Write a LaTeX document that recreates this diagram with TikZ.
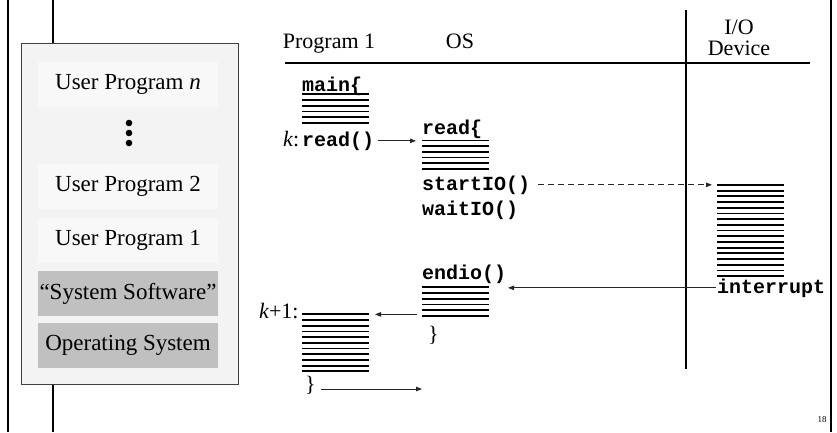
\documentclass[tikz,border=0pt]{standalone}
\usepackage{fontspec}
\setmainfont{Liberation Serif}
\setmonofont{Liberation Mono}
\usetikzlibrary{arrows.meta, positioning, calc}
\definecolor{memfill}{RGB}{243,243,243}
\definecolor{userfill}{RGB}{248,248,248}
\definecolor{sysfill}{RGB}{192,192,192}
\definecolor{memedge}{RGB}{64,64,64}

\begin{document}
\begin{tikzpicture}[
  x=1pt, y=-1pt,
  every node/.style={inner sep=0pt, outer sep=0pt},
  label22/.style={font=\fontsize{22}{22}\selectfont},
  code/.style={font=\fontsize{20}{20}\selectfont\ttfamily\bfseries, anchor=base west},
  membox/.style={draw=memedge, fill=memfill, line width=1pt, minimum width=217pt, minimum height=341pt},
  progbox/.style={fill=userfill, minimum width=180pt, minimum height=45pt, font=\fontsize{23}{23}\selectfont},
  sysbox/.style={progbox, fill=sysfill},
  stack/.style={minimum width=67pt, minimum height={(#1-1)*5.7pt+1.8pt}, anchor=north west,
    path picture={\foreach \r in {1,...,#1}
      \draw[line width=1.8pt] ([yshift={-0.9pt-(\r-1)*5.7pt}]path picture bounding box.north west) -- ++(67pt,0pt);}},
  arr/.style={-{Triangle[length=6pt,width=4.5pt]}, line width=0.9pt, black!85},
  frame/.style={line width=2.3pt},
]
\useasboundingbox (0,0) rectangle (837,432);

%% Slide frame
\draw[frame] (8,0) -- (8,432);
\draw[frame] (53,0) -- (53,432);
\draw[frame] (831,0) -- (831,432);

%% Memory layout
\node[membox] (mem) at (129.5,213.5) {};
\node[progbox] (upn) at (128,84.5) {User Program \textit{n}};
\foreach \dy in {123,133,143} \fill (129,\dy) circle (3.3pt);
\node[progbox] (up2) at (128,186.5) {User Program 2};
\node[progbox, below=9pt of up2] (up1) {User Program 1};
\node[sysbox, below=8pt of up1] (syssw) {``System Software''};
\node[sysbox, below=7pt of syssw] (opsys) {Operating System};

%% Column headers
\node[label22, anchor=base] (prog) at (329,48) {Program 1};
\node[label22, anchor=base] (os) at (460,48) {OS};
\node[align=center, font=\fontsize{22}{21}\selectfont] (iodev) at (739,38) {I/O\\Device};
\draw[line width=2pt] (285,63) -- (810,63);
\draw[line width=2pt] (686,10) -- (686,369);

%% Program 1
\node[code] (mainlbl) at (302,91) {main\{};
\node[stack=6] (mainstk) at (302,93.4) {};
\node[label22, anchor=base west] (klbl) at (283,146) {\textit{k}:};
\node[code] (readcall) at (302,146) {read()};

%% OS read
\node[code] (readlbl) at (422,134) {read\{};
\node[stack=6] (readstk) at (422,139.5) {};
\node[code] (startlbl) at (422,190) {startIO()};
\node[code] (waitlbl) at (422,215) {waitIO()};

%% I/O device
\node[stack=17] (iostk) at (717,184) {};
\node[code] (intlbl) at (717,293) {interrupt};

%% OS endio
\node[code] (endlbl) at (422,279) {endio()};
\node[stack=6] (endstk) at (422,286.4) {};
\node[label22, anchor=base west] (endbrace) at (428,341) {\}};

%% Program 1 resumes
\node[label22, anchor=base west] (k1lbl) at (259,318) {\textit{k}+1:};
\node[stack=11] (k1stk) at (302,313.4) {};
\node[label22, anchor=base west] (k1brace) at (305,391) {\}};
\coordinate (k1out) at (422,389);

\node[font=\fontsize{9}{9}\selectfont, anchor=base] (pagenum) at (822,422) {18};

%% Control flow
\draw[arr] ([xshift=4pt]readcall.east) -- ($(readcall.east -| readstk.west)+(-6,0)$);
\draw[arr, dash pattern=on 6pt off 4pt] ([xshift=8pt]startlbl.east) -- ($(startlbl.east -| iostk.west)+(-5,0)$);
\draw[arr] ([xshift=-1pt]intlbl.west) -- ($(intlbl.west -| endlbl.east)+(2,0)$);
\draw[arr] ($(k1stk.north east -| endstk.west)+(-5,1)$) -- ($(k1stk.north east)+(6,1)$);
\draw[arr] ($(k1brace.base east)+(5,-2)$) -- (k1out);

\end{tikzpicture}
\end{document}
